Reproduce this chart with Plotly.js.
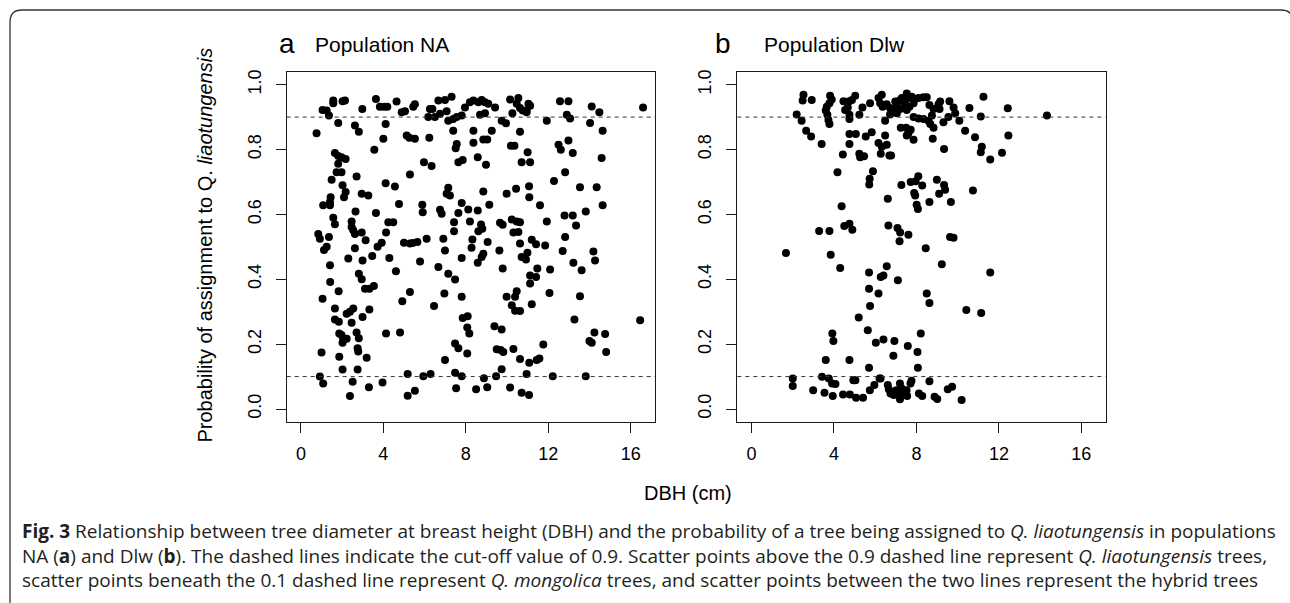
<!DOCTYPE html>
<html><head><meta charset="utf-8">
<script src="https://cdn.plot.ly/plotly-3.0.1.min.js"></script>
<style>html,body{margin:0;padding:0;background:#fff}#chart{width:1290px;height:603px}</style>
</head><body><div id="chart"></div>
<script>
// ---- Data: population NA (panel a) ----
const dbhNA = [0.76,0.84,0.92,1.05,1.25,1.36,1.12,1.25,1.36,1.41,1.42,1.05,1.0,0.92,1.08,1.44,1.41,1.41,1.08,1.49,1.57,1.65,1.57,1.57,1.81,1.65,1.81,1.97,2.17,1.81,1.73,1.97,2.02,2.17,2.09,2.02,2.14,1.83,1.65,1.65,1.84,1.86,1.97,2.05,2.02,2.22,1.86,2.02,2.22,2.38,2.54,2.46,2.38,2.51,2.30,2.46,2.54,2.62,2.46,2.65,2.62,2.70,2.62,2.81,2.98,2.95,3.27,2.95,3.14,2.99,2.81,2.95,3.11,3.32,3.54,2.99,3.32,2.70,2.81,2.75,2.78,3.19,2.75,3.30,3.46,3.64,3.56,3.64,3.72,3.92,3.96,3.83,4.03,4.19,4.11,4.0,4.11,4.13,4.24,4.48,4.29,4.61,4.13,4.56,4.64,4.76,4.81,4.92,4.89,5.05,5.0,5.29,5.42,5.65,5.13,5.26,5.53,5.53,5.45,5.29,5.29,5.18,5.18,5.53,5.78,5.89,5.91,5.97,6.10,6.34,6.23,6.18,6.26,6.38,6.50,5.94,6.29,6.46,6.67,6.91,6.99,6.75,6.83,6.96,7.15,7.48,6.99,6.67,6.99,7.07,6.75,7.31,7.15,7.39,7.56,7.80,7.39,7.23,7.15,7.07,7.56,7.51,7.64,7.43,7.43,7.80,7.80,7.64,7.85,7.48,7.64,7.48,7.80,7.53,7.80,7.85,8.09,8.07,8.17,8.07,8.12,8.20,8.32,8.28,8.58,8.61,8.74,8.80,8.85,8.77,8.58,9.06,9.14,8.85,7.96,8.20,8.37,8.61,8.77,8.93,9.09,9.42,8.69,8.93,8.37,8.37,8.85,9.04,8.58,8.98,9.26,8.50,8.88,9.04,9.39,9.74,9.47,9.74,9.50,9.69,9.82,10.31,10.15,10.71,11.07,10.95,10.63,11.08,11.44,11.57,11.76,12.22,9.74,9.95,9.66,9.79,9.63,9.79,9.98,9.98,10.19,10.36,10.15,10.55,10.47,10.63,10.76,10.95,11.12,11.04,10.95,10.26,10.63,10.23,10.47,10.63,10.31,10.55,10.44,10.71,11.0,11.12,11.07,11.08,11.6,10.63,10.71,10.99,10.92,11.2,11.41,11.85,11.12,11.41,11.47,11.12,11.2,11.93,12.09,12.06,12.28,10.39,10.47,10.23,10.39,10.63,11.93,12.57,12.98,12.9,13.06,12.5,12.61,12.98,13.19,12.82,12.79,13.19,13.35,12.82,12.70,13.22,13.62,13.54,13.27,13.54,13.82,13.82,14.11,14.48,14.03,14.64,14.59,14.35,14.64,14.19,14.27,14.0,14.11,14.24,14.76,14.81,16.46,16.6];
const probNA = [0.85,0.54,0.525,0.922,0.92,0.905,0.49,0.50,0.53,0.443,0.392,0.34,0.174,0.10,0.079,0.653,0.638,0.628,0.628,0.707,0.59,0.57,0.951,0.943,0.882,0.789,0.78,0.776,0.771,0.756,0.73,0.73,0.69,0.669,0.653,0.949,0.951,0.363,0.31,0.276,0.269,0.233,0.228,0.212,0.204,0.217,0.161,0.122,0.294,0.30,0.31,0.266,0.04,0.084,0.464,0.561,0.551,0.54,0.578,0.609,0.496,0.717,0.874,0.855,0.925,0.664,0.658,0.544,0.52,0.458,0.417,0.40,0.371,0.371,0.379,0.284,0.307,0.236,0.218,0.187,0.177,0.158,0.122,0.067,0.472,0.604,0.799,0.956,0.50,0.513,0.082,0.932,0.932,0.932,0.879,0.833,0.696,0.544,0.576,0.576,0.466,0.425,0.233,0.686,0.948,0.632,0.236,0.332,0.915,0.918,0.513,0.51,0.512,0.515,0.843,0.836,0.833,0.94,0.932,0.723,0.361,0.041,0.108,0.056,0.455,0.63,0.607,0.761,0.525,0.749,0.836,0.90,0.925,0.925,0.90,0.101,0.108,0.318,0.438,0.525,0.489,0.614,0.602,0.356,0.417,0.399,0.151,0.951,0.953,0.918,0.91,0.963,0.889,0.894,0.90,0.905,0.858,0.658,0.682,0.664,0.817,0.804,0.604,0.576,0.548,0.635,0.466,0.761,0.768,0.202,0.187,0.112,0.101,0.064,0.346,0.281,0.286,0.251,0.233,0.171,0.615,0.578,0.523,0.497,0.612,0.548,0.569,0.556,0.479,0.469,0.451,0.515,0.63,0.671,0.93,0.946,0.951,0.946,0.953,0.946,0.941,0.93,0.907,0.912,0.858,0.821,0.831,0.831,0.776,0.753,0.858,0.061,0.095,0.067,0.255,0.245,0.101,0.123,0.184,0.182,0.176,0.185,0.066,0.05,0.043,0.108,0.154,0.143,0.151,0.156,0.199,0.101,0.889,0.881,0.574,0.568,0.489,0.433,0.664,0.346,0.812,0.812,0.954,0.959,0.941,0.928,0.92,0.92,0.935,0.941,0.915,0.912,0.855,0.584,0.578,0.576,0.544,0.546,0.679,0.761,0.792,0.761,0.687,0.653,0.628,0.51,0.469,0.482,0.461,0.522,0.508,0.504,0.412,0.407,0.433,0.387,0.323,0.578,0.43,0.358,0.703,0.346,0.363,0.32,0.303,0.302,0.889,0.949,0.949,0.907,0.896,0.815,0.799,0.828,0.789,0.73,0.597,0.597,0.566,0.53,0.487,0.451,0.428,0.348,0.276,0.684,0.609,0.101,0.933,0.915,0.882,0.858,0.774,0.684,0.628,0.486,0.458,0.21,0.204,0.236,0.231,0.176,0.274,0.93];

// ---- Data: population Dlw (panel b) ----
const dbhDlw = [2.52,2.48,2.92,2.19,2.43,2.65,2.89,3.40,3.65,3.60,3.68,3.73,3.78,3.81,3.89,3.78,4.46,4.54,4.67,4.75,4.75,4.87,5.03,4.74,5.23,5.38,5.75,6.16,6.32,6.24,6.36,6.48,6.56,6.72,6.80,6.89,6.97,7.05,7.18,7.29,7.53,7.61,7.77,7.94,8.10,8.34,8.50,7.45,7.66,7.53,7.86,7.21,7.05,6.72,7.86,8.10,8.34,8.58,8.63,8.83,9.07,9.15,8.75,8.67,8.83,9.12,9.31,9.55,9.60,9.80,9.88,10.08,10.57,11.12,11.25,12.43,14.33,10.36,10.84,11.17,11.12,11.58,12.15,12.46,9.34,8.79,7.86,7.24,7.50,7.72,7.61,7.53,6.48,5.83,5.54,5.06,4.75,4.75,4.43,5.23,5.27,5.46,6.16,6.32,6.56,6.27,6.69,6.77,4.17,5.89,5.73,5.71,4.37,6.61,7.27,7.72,8.09,7.96,8.28,7.89,7.94,8.01,8.07,8.63,8.99,9.34,9.39,9.10,9.67,10.74,3.28,3.78,4.50,4.75,4.89,6.64,7.08,7.21,7.61,7.18,8.45,9.63,9.80,1.67,3.84,4.30,9.23,11.58,5.70,6.27,6.40,6.56,7.10,5.70,6.16,5.75,8.50,8.63,10.42,11.14,5.20,3.92,3.97,5.64,6.03,6.40,6.93,7.58,8.21,6.88,8.05,3.60,4.75,5.70,8.07,2.0,2.0,2.99,3.42,3.75,3.91,4.07,3.54,3.94,4.44,4.77,5.04,5.07,5.41,5.74,5.96,6.26,6.61,6.66,6.82,6.90,7.20,7.27,7.20,7.35,7.52,7.55,7.71,7.76,8.12,8.28,8.63,8.88,9.01,9.52,9.73,10.19,7.03,6.74,7.14,4.94,6.21];
const probDlw = [0.969,0.951,0.953,0.908,0.889,0.858,0.84,0.817,0.932,0.92,0.907,0.891,0.879,0.966,0.954,0.943,0.949,0.922,0.93,0.907,0.894,0.953,0.966,0.949,0.907,0.93,0.943,0.959,0.969,0.943,0.932,0.889,0.94,0.928,0.915,0.925,0.948,0.935,0.951,0.959,0.973,0.959,0.963,0.956,0.959,0.961,0.961,0.94,0.932,0.922,0.943,0.925,0.912,0.908,0.90,0.896,0.894,0.889,0.937,0.925,0.94,0.948,0.905,0.879,0.867,0.925,0.884,0.90,0.949,0.93,0.912,0.889,0.928,0.902,0.963,0.927,0.905,0.858,0.838,0.809,0.792,0.769,0.79,0.843,0.802,0.833,0.83,0.867,0.867,0.861,0.85,0.843,0.843,0.853,0.84,0.848,0.848,0.817,0.785,0.787,0.776,0.779,0.82,0.809,0.815,0.787,0.782,0.782,0.73,0.733,0.71,0.692,0.625,0.648,0.691,0.70,0.718,0.702,0.689,0.666,0.658,0.63,0.617,0.638,0.707,0.691,0.676,0.664,0.638,0.674,0.549,0.549,0.564,0.571,0.553,0.566,0.558,0.544,0.537,0.517,0.496,0.53,0.528,0.481,0.476,0.435,0.446,0.421,0.421,0.407,0.412,0.44,0.397,0.371,0.356,0.318,0.356,0.327,0.305,0.296,0.282,0.233,0.21,0.243,0.204,0.214,0.21,0.194,0.233,0.164,0.176,0.151,0.151,0.127,0.127,0.094,0.071,0.058,0.0995,0.094,0.079,0.077,0.05,0.04,0.045,0.045,0.089,0.035,0.035,0.058,0.074,0.094,0.074,0.061,0.053,0.043,0.079,0.064,0.03,0.045,0.058,0.04,0.079,0.087,0.048,0.04,0.086,0.038,0.031,0.061,0.069,0.028,0.058,0.048,0.05,0.089,0.094];

// ---- Axes, thresholds, labels ----
const xTicks = [0, 4, 8, 12, 16];
const yTicks = [0, 0.2, 0.4, 0.6, 0.8, 1.0];
const yTickText = ['0.0', '0.2', '0.4', '0.6', '0.8', '1.0'];
const cutoffs = [0.1, 0.9];
const panelLetters = ['a', 'b'];
const panelTitles = ['Population NA', 'Population Dlw'];
const xTitle = 'DBH (cm)';
const yTitle = 'Probability of assignment to Q. <i>liaotungensis</i>';
const captionLines = [
  '<b>Fig. 3</b> Relationship between tree diameter at breast height (DBH) and the probability of a tree being assigned to <i>Q. liaotungensis</i> in populations',
  'NA (<b>a</b>) and Dlw (<b>b</b>). The dashed lines indicate the cut-off value of 0.9. Scatter points above the 0.9 dashed line represent <i>Q. liaotungensis</i> trees,',
  'scatter points beneath the 0.1 dashed line represent <i>Q. mongolica</i> trees, and scatter points between the two lines represent the hybrid trees'
];

const W = 1290, H = 603;
const px = v => v / W;
const py = v => 1 - v / H;
const ARIAL = 'Liberation Sans, Arial, sans-serif';
const INK = '#1a1a1a';

const marker = {size: 8, color: '#000', line: {width: 0}};
const traces = [
  {x: dbhNA, y: probNA, type: 'scatter', mode: 'markers', marker, xaxis: 'x', yaxis: 'y', hoverinfo: 'x+y'},
  {x: dbhDlw, y: probDlw, type: 'scatter', mode: 'markers', marker, xaxis: 'x2', yaxis: 'y2', hoverinfo: 'x+y'}
];

const xCommon = {
  range: [-0.69, 17.18], tickvals: xTicks, ticktext: xTicks.map(String),
  ticks: 'outside', ticklen: 10, tickwidth: 1, tickcolor: INK,
  showline: true, mirror: true, linecolor: INK, linewidth: 1,
  showgrid: false, zeroline: false, ticklabelstandoff: 5,
  tickfont: {family: ARIAL, size: 18, color: '#000'}, fixedrange: true
};
const yCommon = {
  range: [-0.04, 1.04], tickvals: yTicks, ticktext: yTickText, tickangle: -90,
  ticks: 'outside', ticklen: 10, tickwidth: 1, tickcolor: INK,
  showline: true, mirror: true, linecolor: INK, linewidth: 1,
  showgrid: false, zeroline: false, ticklabelstandoff: 8,
  tickfont: {family: ARIAL, size: 18, color: '#000'}, fixedrange: true,
  domain: [py(422), py(71.7)]
};

const panelLeft = [286.7, 737.3];
const panelRight = [655, 1105.7];

const shapes = [];
['x', 'x2'].forEach((xa, i) => {
  const ya = i === 0 ? 'y' : 'y2';
  cutoffs.forEach(c => shapes.push({
    type: 'line', xref: xa + ' domain', yref: ya, x0: 0, x1: 1, y0: c, y1: c,
    line: {color: '#333', width: 1, dash: '4px,4px'}
  }));
});
// figure frame (rounded corners)
const L = 10, T = 10, R = 1293, B = 606, r = 12;
shapes.push({
  type: 'path', xref: 'paper', yref: 'paper',
  path: `M ${px(L)} ${py(B)} L ${px(L)} ${py(T + r)} Q ${px(L)} ${py(T)} ${px(L + r)} ${py(T)} L ${px(R - r)} ${py(T)} Q ${px(R)} ${py(T)} ${px(R)} ${py(T + r)} L ${px(R)} ${py(B)}`,
  line: {color: '#333', width: 1.3}
});

const annotations = [];
const letterX = [276.7, 713];
const titleX = [313.3, 761.7];
for (let i = 0; i < 2; i++) {
  annotations.push({xref: 'paper', yref: 'paper', x: px(letterX[i]), y: py(43), xanchor: 'left', yanchor: 'middle',
    text: panelLetters[i], showarrow: false, font: {family: ARIAL, size: 28, color: '#000'}});
  annotations.push({xref: 'paper', yref: 'paper', x: px(titleX[i]), y: py(44), xanchor: 'left', yanchor: 'middle',
    text: panelTitles[i], showarrow: false, font: {family: ARIAL, size: 21, color: '#000'}});
}
annotations.push({xref: 'paper', yref: 'paper', x: px(204.5), y: py(245), xanchor: 'center', yanchor: 'middle',
  text: yTitle, textangle: -90, showarrow: false, font: {family: ARIAL, size: 20, color: '#000'}});
annotations.push({xref: 'paper', yref: 'paper', x: px(688), y: py(493), xanchor: 'center', yanchor: 'middle',
  text: xTitle, showarrow: false, font: {family: ARIAL, size: 20, color: '#000'}});
// caption as one text block
annotations.push({
  xref: 'paper', yref: 'paper', x: px(20), y: py(555), xanchor: 'left', yanchor: 'middle',
  text: captionLines.join('<br>'), showarrow: false, align: 'left',
  font: {family: 'Open Sans, sans-serif', size: 19, color: '#231f20'}
});

const layout = {
  width: W, height: H, autosize: false,
  margin: {l: 0, r: 0, t: 0, b: 0},
  paper_bgcolor: '#fff', plot_bgcolor: '#fff', showlegend: false,
  xaxis: Object.assign({}, xCommon, {domain: [px(panelLeft[0]), px(panelRight[0])], anchor: 'y'}),
  yaxis: Object.assign({}, yCommon, {anchor: 'x'}),
  xaxis2: Object.assign({}, xCommon, {domain: [px(panelLeft[1]), px(panelRight[1])], anchor: 'y2'}),
  yaxis2: Object.assign({}, yCommon, {anchor: 'x2'}),
  shapes, annotations
};

Plotly.newPlot('chart', traces, layout, {displayModeBar: false, staticPlot: true});
</script>
</body></html>
